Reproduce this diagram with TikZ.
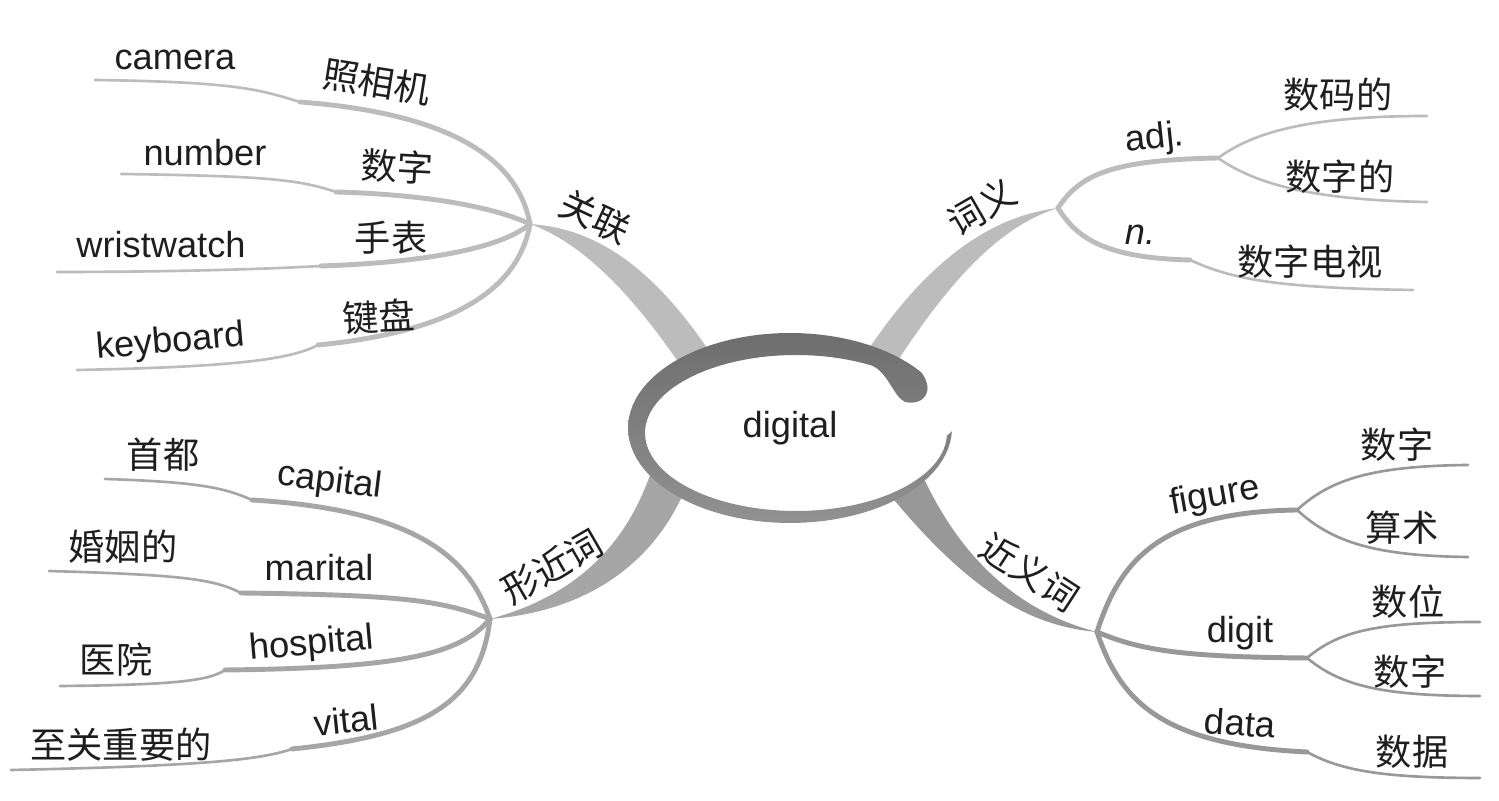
\documentclass[tikz,border=0pt]{standalone}
\usepackage{fontspec}
\setmainfont{Liberation Sans}
\newfontfamily\cjk{Noto Sans CJK SC}
\usepackage{xcolor}
\definecolor{toplight}{RGB}{188,188,188}
\definecolor{botleft}{RGB}{166,166,166}
\definecolor{botright}{RGB}{152,152,152}
\definecolor{ringtop}{RGB}{110,110,110}
\definecolor{ringbot}{RGB}{145,145,145}
\definecolor{ink}{RGB}{30,30,30}

\begin{document}
\begin{tikzpicture}[x=0.01cm,y=-0.01cm,font=\fontsize{10.3}{12}\selectfont,
  en/.style={inner sep=0pt,text=ink},
  zh/.style={inner sep=0pt,text=ink,font=\fontsize{10.3}{12}\selectfont\cjk},
  near/.style={line width=1.4pt,line cap=round},
  far/.style={line width=0.75pt,line cap=round}]
\fill[white] (0,0) rectangle (1499,801);

\coordinate (h1) at (530,224);
\coordinate (h2) at (1058,208);
\coordinate (h3) at (490,619);
\coordinate (h4) at (1097,632);
\coordinate (adj) at (1218,158);
\coordinate (fig) at (1297,510);
\coordinate (dig) at (1307,658);

\fill[toplight] (h1) .. controls (590,228) and (650,260) .. (715,360) -- (685,372) .. controls (630,290) and (580,242) .. (h1) -- cycle;
\fill[toplight] (h2) .. controls (1000,215) and (935,250) .. (868,350) -- (895,365) .. controls (950,280) and (1000,226) .. (h2) -- cycle;
\fill[botleft] (h3) .. controls (560,600) and (620,560) .. (650,475) -- (685,490) .. controls (650,570) and (580,612) .. (h3) -- cycle;
\fill[botright] (920,470) .. controls (960,560) and (1020,612) .. (h4) .. controls (1030,626) and (970,592) .. (890,495) -- cycle;

\fill[white] plot[domain=0:360,samples=90] ({796+151*cos(\x)},{433+78*sin(\x)}) -- cycle;
\shade[top color=ringtop,bottom color=ringbot]
  plot[domain=-36:-358,samples=90] ({790+162*cos(\x)},{428+95*sin(\x)})
  -- plot[domain=-358:-60,samples=90] ({796+151*cos(\x)},{433+78*sin(\x)})
  .. controls (888,372) and (893,396) .. (905,402)
  .. controls (925,406) and (935,390) .. (921,372) -- cycle;
\node[en] (digital) at (790,428) {digital};

\coordinate (s1) at (300,102); \coordinate (e1) at (95,80);
\coordinate (s2) at (336,192); \coordinate (e2) at (121,174);
\coordinate (s3) at (321,266); \coordinate (e3) at (57,272);
\coordinate (s4) at (318,345); \coordinate (e4) at (77,370);
\draw[near,toplight] (h1) .. controls (520,170) and (470,115) .. (s1);
\draw[far,toplight] (s1) .. controls (260,90) and (240,82) .. (e1);
\draw[near,toplight] (h1) .. controls (500,210) and (440,195) .. (s2);
\draw[far,toplight] (s2) .. controls (300,180) and (270,176) .. (e2);
\draw[near,toplight] (h1) .. controls (505,245) and (440,262) .. (s3);
\draw[far,toplight] (s3) .. controls (250,270) and (150,272) .. (e3);
\draw[near,toplight] (h1) .. controls (520,280) and (470,330) .. (s4);
\draw[far,toplight] (s4) .. controls (290,360) and (230,367) .. (e4);

\coordinate (e5) at (1427,116);
\coordinate (e6) at (1427,202);
\coordinate (s7) at (1190,260); \coordinate (e7) at (1413,290);
\draw[near,toplight] (h2) .. controls (1080,175) and (1110,160) .. (adj);
\draw[far,toplight] (adj) .. controls (1250,135) and (1300,116) .. (e5);
\draw[far,toplight] (adj) .. controls (1250,180) and (1300,200) .. (e6);
\draw[near,toplight] (h2) .. controls (1075,235) and (1100,258) .. (s7);
\draw[far,toplight] (s7) .. controls (1230,278) and (1270,288) .. (e7);

\coordinate (s8) at (252,500); \coordinate (e8) at (105,479);
\coordinate (s9) at (241,593); \coordinate (e9) at (49,571);
\coordinate (s10) at (225,670); \coordinate (e10) at (60,686);
\coordinate (s11) at (292,749); \coordinate (e11) at (11,770);
\draw[near,botleft] (h3) .. controls (470,560) and (420,510) .. (s8);
\draw[far,botleft] (s8) .. controls (225,488) and (200,482) .. (e8);
\draw[near,botleft] (h3) .. controls (440,600) and (400,595) .. (s9);
\draw[far,botleft] (s9) .. controls (215,580) and (190,575) .. (e9);
\draw[near,botleft] (h3) .. controls (460,655) and (400,668) .. (s10);
\draw[far,botleft] (s10) .. controls (210,680) and (180,685) .. (e10);
\draw[near,botleft] (h3) .. controls (480,700) and (430,735) .. (s11);
\draw[far,botleft] (s11) .. controls (260,760) and (200,766) .. (e11);

\coordinate (e12) at (1468,465);
\coordinate (e13) at (1468,557);
\coordinate (e14) at (1480,622);
\coordinate (e15) at (1480,696);
\coordinate (s16) at (1307,752); \coordinate (e16) at (1480,778);
\draw[near,botright] (h4) .. controls (1120,560) and (1160,512) .. (fig);
\draw[far,botright] (fig) .. controls (1330,480) and (1370,466) .. (e12);
\draw[far,botright] (fig) .. controls (1330,540) and (1370,556) .. (e13);
\draw[near,botright] (h4) .. controls (1140,650) and (1180,657) .. (dig);
\draw[far,botright] (dig) .. controls (1340,630) and (1380,622) .. (e14);
\draw[far,botright] (dig) .. controls (1340,685) and (1380,696) .. (e15);
\draw[near,botright] (h4) .. controls (1120,700) and (1160,745) .. (s16);
\draw[far,botright] (s16) .. controls (1340,770) and (1380,778) .. (e16);

\node[zh,rotate=-25] (guanlian) at (595,217) {关联};
\node[en] (camera) at (175,60) {camera};
\node[zh,rotate=-9] (zhaoxiangji) at (377,82) {照相机};
\node[en] (number) at (205,153) {number};
\node[zh,rotate=-3] (shuzi1) at (397,167) {数字};
\node[en] (wristwatch) at (161,245) {wristwatch};
\node[zh] (shoubiao) at (391,238) {手表};
\node[en,rotate=5] (keyboard) at (171,343) {keyboard};
\node[zh,rotate=3] (jianpan) at (379,317) {键盘};

\node[zh,rotate=30] (ciyi) at (982,207) {词义};
\node[en,rotate=6] (adjtext) at (1155,139) {adj.};
\node[zh] (shumade) at (1338,95) {数码的};
\node[zh] (shuzide) at (1340,177) {数字的};
\node[en] (ntext) at (1140,235) {\itshape n.};
\node[zh] (shuzidianshi) at (1310,262) {数字电视};

\node[zh,rotate=30] (xingjinci) at (552,567) {形近词};
\node[en,rotate=-7] (capital) at (330,482) {capital};
\node[zh] (shoudu) at (163,455) {首都};
\node[en] (marital) at (319,568) {marital};
\node[zh] (hunyinde) at (123,547) {婚姻的};
\node[en,rotate=5] (hospital) at (312,645) {hospital};
\node[zh] (yiyuan) at (116,660) {医院};
\node[en,rotate=6] (vital) at (346,720) {vital};
\node[zh] (zhiguan) at (121,745) {至关重要的};

\node[zh,rotate=-33] (jinyici) at (1030,572) {近义词};
\node[en,rotate=10] (figure) at (1215,497) {figure};
\node[zh] (shuzi2) at (1397,445) {数字};
\node[zh] (suanshu) at (1402,528) {算术};
\node[en] (digit) at (1240,633) {digit};
\node[zh] (shuwei) at (1408,602) {数位};
\node[zh] (shuzi3) at (1410,672) {数字};
\node[en,rotate=-4] (data) at (1240,723) {data};
\node[zh] (shuju) at (1412,752) {数据};
\end{tikzpicture}
\end{document}
